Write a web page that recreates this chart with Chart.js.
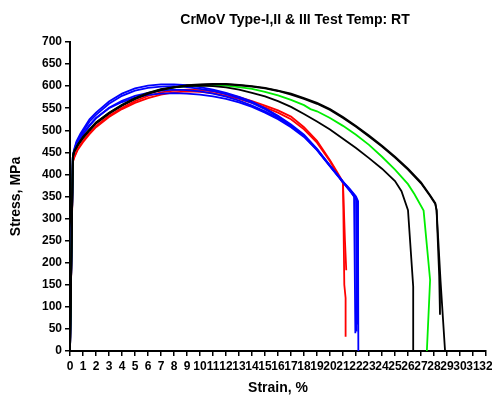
<!DOCTYPE html>
<html>
<head>
<meta charset="utf-8">
<title>CrMoV Type-I,II & III Test Temp: RT</title>
<script src="https://cdn.jsdelivr.net/npm/chart.js@4.4.0/dist/chart.umd.min.js"></script>
<style>
  html, body { margin: 0; padding: 0; background: #fff; }
  #chart-box { width: 492px; height: 398px; }
</style>
</head>
<body>
<div id="chart-box"><canvas id="my-chart" width="492" height="398"></canvas></div>
<script>
'use strict';

// ********** DATA **********

let chartTitle = 'CrMoV Type-I,II & III Test Temp: RT';
let xTitle = 'Strain, %';
let yTitle = 'Stress, MPa';

let xTicks = { min: 0, max: 32, step: 1 };
let yTicks = { min: 0, max: 700, step: 50 };

// black - outer curve, breaks near 28.9 %
let blackOneStrain = [0, 0.22, 0.3, 0.6, 1, 1.5, 2, 3, 4, 5, 6, 7, 8, 9, 10, 11, 12, 13, 14, 15, 16, 17, 18, 19, 20, 21, 22, 23, 24, 25, 26, 27, 27.7, 28.1, 28.2, 28.5, 28.85];
let blackOneStress = [0, 440, 452, 468, 485, 502, 518, 540, 558, 573, 585, 593, 598, 602, 604, 605, 605, 603, 600, 596, 590, 583, 573, 562, 548, 530, 510, 488, 465, 440, 413, 382, 353, 335, 319, 160, 0];

// black - second outer curve, stops at ~82 MPa
let blackTwoStrain = [0, 0.22, 0.3, 0.6, 1, 1.5, 2, 3, 4, 5, 6, 7, 8, 9, 10, 11, 12, 13, 14, 15, 16, 17, 18, 19, 20, 21, 22, 23, 24, 25, 26, 27, 27.7, 28.1, 28.2, 28.4, 28.46];
let blackTwoStress = [0, 438, 450, 466, 483, 500, 516, 538, 556, 571, 583, 591, 597, 601, 603, 604, 604, 602, 599, 595, 589, 581, 571, 560, 546, 528, 508, 486, 463, 438, 411, 380, 351, 333, 318, 170, 82];

// black - inner curve, breaks near 26.4 %
let blackThreeStrain = [0, 0.22, 0.3, 0.6, 1, 1.5, 2, 3, 4, 5, 6, 7, 8, 9, 10, 11, 12, 13, 14, 15, 16, 17, 18, 19, 20, 21, 22, 23, 24, 25, 25.5, 26.0, 26.4, 26.4];
let blackThreeStress = [0, 440, 450, 466, 483, 500, 516, 538, 556, 571, 583, 592, 597, 600, 601, 600, 597, 592, 585, 577, 566, 553, 537, 520, 502, 481, 460, 437, 413, 385, 362, 319, 146, 0];

// green
let greenStrain = [0, 0.22, 0.3, 0.6, 1, 1.5, 2, 3, 4, 5, 6, 7, 8, 9, 10, 11, 12, 13, 14, 15, 16, 17, 18, 18.5, 19, 20, 21, 22, 23, 24, 25, 26, 26.5, 27.2, 27.7, 27.45];
let greenStress = [0, 440, 451, 467, 484, 501, 517, 539, 557, 572, 584, 592, 597, 600, 602, 602, 601, 598, 594, 587, 579, 569, 557, 548, 543, 528, 510, 490, 467, 440, 411, 378, 355, 318, 161, 0];

// red
let redOneStrain = [0, 0.22, 0.35, 0.6, 1, 1.5, 2, 3, 4, 5, 6, 7, 8, 9, 10, 11, 12, 13, 14, 15, 16, 17, 18, 19, 20, 20.5, 21.0, 21.1, 21.2, 21.2];
let redOneStress = [0, 430, 442, 458, 476, 494, 510, 533, 551, 566, 578, 586, 590, 592, 591, 588, 582, 575, 566, 556, 545, 531, 507, 476, 432, 408, 383, 150, 120, 32];
let redTwoStrain = [0, 0.22, 0.35, 0.6, 1, 1.5, 2, 3, 4, 5, 6, 7, 8, 9, 10, 11, 12, 13, 14, 15, 16, 17, 18, 19, 20, 20.5, 21.0, 21.15, 21.25];
let redTwoStress = [0, 428, 440, 456, 473, 491, 507, 530, 548, 562, 573, 581, 586, 588, 587, 584, 578, 571, 562, 552, 540, 525, 502, 472, 430, 405, 380, 250, 183];

// blue
let blueOneStrain = [0, 0.22, 0.3, 0.5, 0.8, 1.5, 2, 3, 4, 5, 6, 7, 8, 9, 10, 11, 12, 13, 14, 15, 16, 17, 18, 19, 20, 21, 21.5, 22.0, 22.15, 22.18];
let blueOneStress = [0, 440, 455, 475, 492, 525, 540, 565, 583, 595, 601, 604, 604, 602, 598, 592, 585, 576, 565, 550, 533, 513, 490, 458, 420, 384, 368, 350, 340, 0];
let blueTwoStrain = [0, 0.22, 0.3, 0.5, 0.8, 1.5, 2, 3, 4, 5, 6, 7, 8, 9, 10, 11, 12, 13, 14, 15, 16, 17, 18, 19, 20, 21, 21.5, 21.9, 22.0, 22.05];
let blueTwoStress = [0, 440, 452, 472, 488, 520, 535, 560, 578, 590, 596, 599, 600, 598, 594, 589, 582, 573, 562, 548, 531, 511, 488, 456, 419, 383, 366, 352, 345, 44];
let blueThreeStrain = [0, 0.22, 0.3, 0.6, 1, 1.5, 2, 3, 4, 5, 6, 7, 8, 9, 10, 11, 12, 13, 14, 15, 16, 17, 18, 19, 20, 21, 21.6, 21.85, 21.95];
let blueThreeStress = [0, 440, 450, 470, 490, 510, 527, 551, 567, 578, 585, 590, 592, 591, 588, 583, 576, 567, 556, 543, 528, 510, 487, 456, 420, 383, 361, 350, 40];
let blueFourStrain = [0, 0.22, 0.3, 0.6, 1, 1.5, 2, 3, 4, 5, 6, 7, 8, 9, 10, 11, 12, 13, 14, 15, 16, 17, 18, 19, 20, 21, 21.6, 22.1, 22.15];
let blueFourStress = [0, 440, 452, 472, 492, 512, 528, 550, 564, 574, 580, 583, 584, 583, 581, 577, 571, 563, 553, 540, 525, 507, 485, 455, 418, 382, 360, 340, 60];

// ********** HELPERS **********

function toPoints(strain, stress) {
  let points = [];
  for (let i = 0; i < strain.length; i++) {
    points.push({ x: strain[i], y: stress[i] });
  }
  return points;
}

function curve(strain, stress, color) {
  return {
    data: toPoints(strain, stress),
    borderColor: color,
    backgroundColor: color,
    borderWidth: 1.8,
    pointRadius: 0,
    tension: 0,
    fill: false
  };
}

let tickFont = { family: 'Arial, "Liberation Sans", sans-serif', size: 12, weight: 'bold' };
let titleFont = { family: 'Arial, "Liberation Sans", sans-serif', size: 14, weight: 'bold' };

// title sits right of the plot centre in the reference, so it's drawn by hand
let titlePlugin = {
  id: 'plotTitle',
  afterDraw(chart) {
    let c = chart.ctx;
    c.save();
    c.font = 'bold 14px Arial, "Liberation Sans", sans-serif';
    c.fillStyle = '#000';
    c.textAlign = 'center';
    c.textBaseline = 'middle';
    c.fillText(chartTitle, 295, 20);
    c.restore();
  }
};

// ********** CHART **********

let ctx = document.getElementById('my-chart');

// first dataset is painted last, so black ends up on top
let chartObj = {
  type: 'line',
  data: {
    datasets: [
      curve(blackOneStrain, blackOneStress, '#000000'),
      curve(blackTwoStrain, blackTwoStress, '#000000'),
      curve(blackThreeStrain, blackThreeStress, '#000000'),
      curve(greenStrain, greenStress, '#00ee00'),
      curve(blueOneStrain, blueOneStress, '#0000ff'),
      curve(blueTwoStrain, blueTwoStress, '#0000ff'),
      curve(blueThreeStrain, blueThreeStress, '#0000ff'),
      curve(blueFourStrain, blueFourStress, '#0000ff'),
      curve(redOneStrain, redOneStress, '#ff0000'),
      curve(redTwoStrain, redTwoStress, '#ff0000')
    ]
  },
  options: {
    responsive: false,
    animation: false,
    devicePixelRatio: 1,
    layout: { padding: { top: 42, right: 0, left: 0, bottom: 0 } },
    plugins: {
      legend: { display: false },
      tooltip: { enabled: false },
      title: { display: false }
    },
    scales: {
      x: {
        type: 'linear',
        min: xTicks.min,
        max: xTicks.max,
        afterFit: function (scale) {
          scale.height = 47;
          // let the "32" label hang a little past the axis end, as in the original
          scale.paddingRight = 6;
          scale.paddingLeft = 0;
        },
        ticks: {
          stepSize: xTicks.step,
          autoSkip: false,
          maxRotation: 0,
          minRotation: 0,
          padding: 3,
          color: '#000',
          font: tickFont
        },
        grid: { drawOnChartArea: false, drawTicks: true, tickLength: 5, color: '#000', lineWidth: 1.5 },
        border: { display: true, color: '#000', width: 2 },
        title: { display: true, text: xTitle, color: '#000', font: titleFont, padding: { top: 4, bottom: 1 } }
      },
      y: {
        min: yTicks.min,
        max: yTicks.max,
        afterFit: function (scale) { scale.width = 70; },
        ticks: {
          stepSize: yTicks.step,
          padding: 3,
          color: '#000',
          font: tickFont
        },
        grid: { drawOnChartArea: false, drawTicks: true, tickLength: 5, color: '#000', lineWidth: 1.5 },
        border: { display: true, color: '#000', width: 2 },
        title: { display: true, text: yTitle, color: '#000', font: titleFont, padding: { top: 8, bottom: 0 } }
      }
    }
  },
  plugins: [titlePlugin]
};

new Chart(ctx, chartObj); //eslint-disable-line
</script>
</body>
</html>
